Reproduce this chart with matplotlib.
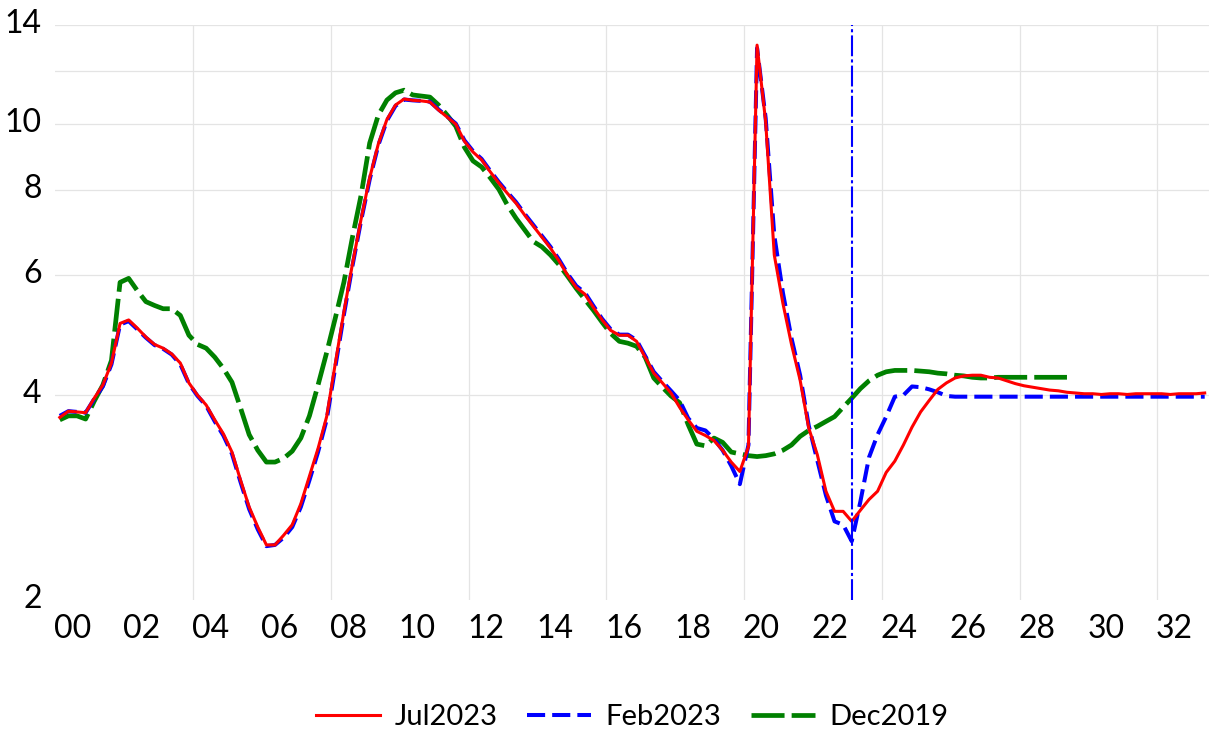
import numpy as np
import matplotlib
matplotlib.use('Agg')
import matplotlib.pyplot as plt
from matplotlib.transforms import ScaledTranslation

plt.rcParams['font.family'] = ['Lato', 'DejaVu Sans']

# quarterly values, first observation = 2000Q1
jul2023 = [3.71, 3.79, 3.78, 3.77, 3.96, 4.14, 4.46, 5.10, 5.16, 5.02,
           4.87, 4.75, 4.69, 4.60, 4.46, 4.17, 4.00, 3.87, 3.68, 3.51,
           3.30, 3.00, 2.74, 2.56, 2.41, 2.41, 2.49, 2.58, 2.77, 3.04,
           3.34, 3.72, 4.45, 5.30, 6.24, 7.26, 8.35, 9.36, 10.17, 10.68,
           10.90, 10.85, 10.83, 10.79, 10.50, 10.25, 10.01, 9.45, 9.11, 8.87,
           8.52, 8.20, 7.92, 7.66, 7.36, 7.09, 6.83, 6.58, 6.30, 6.00,
           5.76, 5.63, 5.38, 5.16, 4.98, 4.90, 4.90, 4.80, 4.55, 4.31,
           4.17, 4.03, 3.84, 3.68, 3.54, 3.49, 3.43, 3.32, 3.19, 3.09,
           3.36, 13.08, 10.09, 6.43, 5.46, 4.75, 4.21, 3.58, 3.27, 2.89,
           2.70, 2.70, 2.61, 2.71, 2.81, 2.89, 3.08, 3.20, 3.38, 3.59,
           3.78, 3.93, 4.08, 4.17, 4.24, 4.27, 4.28, 4.28, 4.25, 4.24,
           4.20, 4.16, 4.13, 4.11, 4.09, 4.07, 4.06, 4.04, 4.03, 4.02,
           4.02, 4.01, 4.02, 4.02, 4.01, 4.02, 4.02, 4.02, 4.02, 4.01,
           4.02, 4.02, 4.02, 4.03]

feb2023 = [3.73, 3.79, 3.78, 3.77, 3.95, 4.12, 4.44, 5.08, 5.14, 5.00,
           4.86, 4.74, 4.68, 4.59, 4.44, 4.16, 3.99, 3.86, 3.66, 3.49,
           3.28, 2.98, 2.72, 2.54, 2.40, 2.41, 2.47, 2.56, 2.74, 3.00,
           3.30, 3.68, 4.40, 5.25, 6.20, 7.22, 8.30, 9.32, 10.13, 10.65,
           10.88, 10.85, 10.83, 10.80, 10.52, 10.27, 10.03, 9.48, 9.14, 8.90,
           8.55, 8.23, 7.95, 7.69, 7.39, 7.12, 6.86, 6.61, 6.33, 6.03,
           5.79, 5.66, 5.41, 5.18, 5.00, 4.91, 4.91, 4.82, 4.57, 4.33,
           4.19, 4.06, 3.93, 3.70, 3.58, 3.55, 3.45, 3.32, 3.15, 2.96,
           3.38, 12.95, 10.21, 6.87, 5.66, 4.85, 4.28, 3.61, 3.21, 2.85,
           2.61, 2.58, 2.44, 2.79, 3.24, 3.50, 3.72, 3.98, 4.00, 4.12,
           4.11, 4.08, 4.04, 3.99, 3.98, 3.98, 3.98, 3.98, 3.98, 3.98,
           3.98, 3.98, 3.98, 3.98, 3.98, 3.98, 3.98, 3.98, 3.98, 3.98,
           3.98, 3.98, 3.98, 3.98, 3.98, 3.98, 3.98, 3.98, 3.98, 3.98,
           3.98, 3.98, 3.98, 3.98]

dec2019 = [3.68, 3.73, 3.73, 3.69, 3.92, 4.14, 4.50, 5.86, 5.94, 5.70,
           5.49, 5.42, 5.36, 5.36, 5.24, 4.90, 4.75, 4.69, 4.55, 4.38,
           4.18, 3.83, 3.50, 3.32, 3.19, 3.19, 3.23, 3.31, 3.46, 3.73,
           4.14, 4.62, 5.19, 5.86, 6.83, 7.87, 9.39, 10.32, 10.86, 11.13,
           11.23, 11.05, 11.01, 10.97, 10.68, 10.32, 9.94, 9.26, 8.84, 8.66,
           8.35, 8.03, 7.61, 7.28, 7.00, 6.73, 6.61, 6.43, 6.22, 5.98,
           5.74, 5.53, 5.33, 5.12, 4.93, 4.80, 4.77, 4.72, 4.55, 4.24,
           4.11, 3.99, 3.90, 3.62, 3.39, 3.37, 3.46, 3.41, 3.30, 3.28,
           3.26, 3.25, 3.26, 3.28, 3.32, 3.38, 3.48, 3.55, 3.60, 3.66,
           3.72, 3.84, 3.96, 4.09, 4.20, 4.28, 4.33, 4.35, 4.35, 4.35,
           4.34, 4.33, 4.31, 4.30, 4.28, 4.27, 4.25, 4.24, 4.24, 4.25,
           4.25, 4.25, 4.25, 4.25, 4.25, 4.25, 4.25, 4.25]

year_labels = ['00', '02', '04', '06', '08', '10', '12', '14', '16',
               '18', '20', '22', '24', '26', '28', '30', '32']
y_ticks = [2, 4, 6, 8, 10, 12, 14]
y_labels = ['2', '4', '6', '8', '10', '', '14']
cutoff_q = 92  # quarter index of the vertical marker

x_jul = np.arange(len(jul2023)) / 4
x_feb = np.arange(len(feb2023)) / 4
x_dec = np.arange(len(dec2019)) / 4

fig = plt.figure(figsize=(12.09, 7.32), dpi=100)
ax = fig.add_axes([0.0459, 0.1803, 0.9541, 0.7855])

l_dec, = ax.plot(x_dec, dec2019, color='#008000', lw=3.4, dashes=(7, 1.5), label='Dec2019')
l_feb, = ax.plot(x_feb, feb2023, color='#0000FF', lw=2.9, dashes=(4.5, 1.75), label='Feb2023')
l_jul, = ax.plot(x_jul, jul2023, color='#FF0000', lw=2.2, label='Jul2023')
ax.axvline(x_feb[cutoff_q], color='#0000FF', lw=1.5, dashes=(10, 1.5, 1.5, 1.5))

ax.set_yscale('log')
ax.set_ylim(2, 14)
ax.set_xlim(-0.125, 33.375)
ax.yaxis.set_minor_locator(matplotlib.ticker.NullLocator())
ax.set_yticks(y_ticks)
ax.set_yticklabels(y_labels)
ax.set_xticks(np.arange(len(year_labels)) * 2 + 0.375)
ax.set_xticklabels(year_labels)
ax.set_xticks(np.arange(8) * 4 + 3.875, minor=True)

ax.tick_params(axis='both', which='both', length=0, labelsize=23)
ax.tick_params(axis='y', pad=10)
ax.tick_params(axis='x', pad=10)

ax.grid(axis='y', which='major', color='#E4E4E4', lw=0.9)
ax.grid(axis='x', which='minor', color='#E4E4E4', lw=0.9)
ax.yaxis.get_gridlines()[0].set_visible(False)
ax.set_axisbelow(True)
for s in ax.spines.values():
    s.set_visible(False)

shift = ScaledTranslation(0, 0.04, fig.dpi_scale_trans)
for lab in ax.get_yticklabels():
    lab.set_transform(lab.get_transform() + shift)

ax.legend(handles=[l_jul, l_feb, l_dec], loc='center', bbox_to_anchor=(0.5, -0.2035),
          ncol=3, frameon=False, fontsize=21, handlelength=2.2,
          handletextpad=0.5, columnspacing=1.0)

fig.savefig('out.png', dpi=100)
